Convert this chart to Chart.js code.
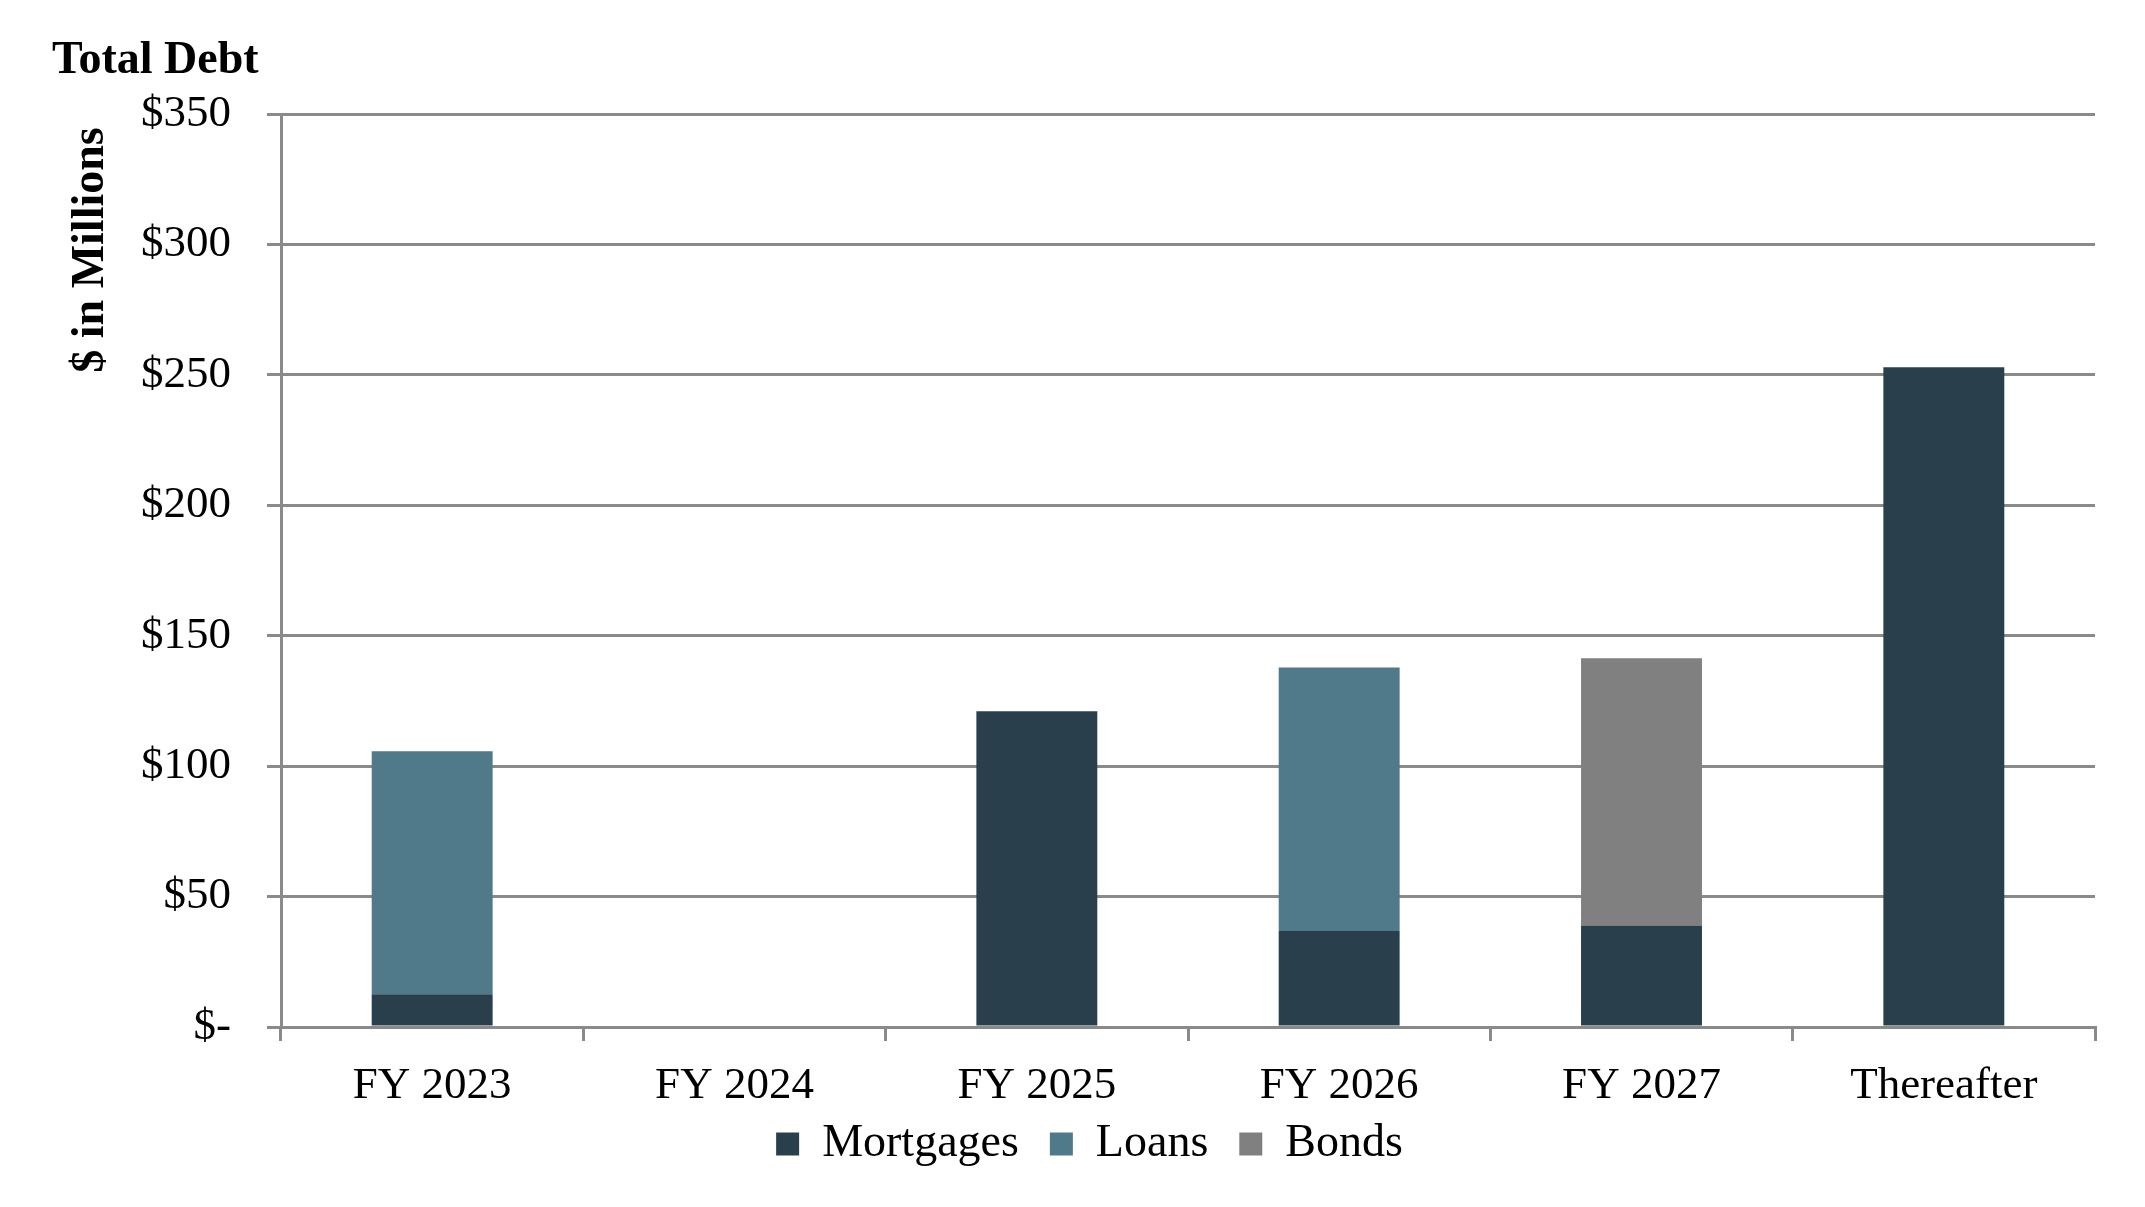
<!DOCTYPE html>
<html>
<head>
<meta charset="utf-8">
<script src="https://cdn.jsdelivr.net/npm/chart.js@4.4.1/dist/chart.umd.min.js"></script>
<style>
  body { margin: 0; background: #fff; }
  #wrap { width: 2145px; height: 1207px; }
</style>
</head>
<body>
<div id="wrap"><canvas id="myChart" width="2145" height="1207"></canvas></div>
<script>
var categories = ['FY 2023', 'FY 2024', 'FY 2025', 'FY 2026', 'FY 2027', 'Thereafter'];
var mortgages = [12.6, 0, 121, 36.8, 38.9, 252.9];
var loans = [93.1, 0, 0, 101, 0, 0];
var bonds = [0, 0, 0, 0, 102.5, 0];
var yTicks = [0, 50, 100, 150, 200, 250, 300, 350];

var serif = "'Liberation Serif', 'Times New Roman', serif";
var gridColor = '#8a8a8a';

// title and rotated axis label, placed like the original
var extraText = {
    id: 'extraText',
    afterDraw: function (chart) {
        var c = chart.ctx;
        c.save();
        c.fillStyle = '#000';
        c.font = 'bold 46px ' + serif;
        c.textBaseline = 'middle';
        c.textAlign = 'left';
        c.fillText('Total Debt', 52, 61);
        c.translate(91, 250);
        c.rotate(-Math.PI / 2);
        c.textAlign = 'center';
        c.fillText('$ in Millions', 0, 0);
        c.restore();
    }
};

// legend sits close under the axis labels: keep its reserved height small,
// then pull it up once the layout is done (and give it room to draw)
var legendTweak = {
    id: 'legendTweak',
    beforeLayout: function (chart) {
        var lg = chart.legend;
        if (lg && !lg._wrapped) {
            var origFit = lg.fit;
            lg.fit = function () {
                origFit.call(this);
                this.height = 56;
            };
            lg._wrapped = true;
        }
    },
    afterLayout: function (chart) {
        var lg = chart.legend;
        if (lg) {
            lg.top -= 41;
            lg.height = 110;
            lg.bottom = lg.top + lg.height;
        }
    }
};

var ctx = document.getElementById('myChart');
var myChart = new Chart(ctx, {
    type: 'bar',
    data: {
        labels: categories,
        datasets: [{
            label: 'Mortgages',
            data: mortgages,
            backgroundColor: '#29404c'
        }, {
            label: 'Loans',
            data: loans,
            backgroundColor: '#507989'
        }, {
            label: 'Bonds',
            data: bonds,
            backgroundColor: '#808080'
        }]
    },
    plugins: [extraText, legendTweak],
    options: {
        responsive: false,
        animation: false,
        devicePixelRatio: 1,
        layout: {
            padding: { left: 84, right: 50, top: 114, bottom: 20 }
        },
        datasets: {
            bar: { categoryPercentage: 1, barPercentage: 0.4, borderWidth: 0 }
        },
        scales: {
            x: {
                stacked: true,
                grid: {
                    drawOnChartArea: false,
                    color: gridColor,
                    lineWidth: 3,
                    tickLength: 14,
                    tickColor: gridColor,
                    tickWidth: 3
                },
                border: { display: true, color: gridColor, width: 3 },
                ticks: {
                    color: '#000',
                    font: { family: serif, size: 45 },
                    padding: 18
                }
            },
            y: {
                stacked: true,
                min: 0,
                max: 350,
                afterFit: function (scale) { scale.width = 197; },
                afterBuildTicks: function (scale) {
                    scale.ticks = yTicks.map(function (v) { return { value: v }; });
                },
                grid: {
                    color: gridColor,
                    lineWidth: 3,
                    tickLength: 14,
                    tickColor: gridColor,
                    tickWidth: 3
                },
                border: { display: true, color: gridColor, width: 3 },
                ticks: {
                    color: '#000',
                    font: { family: serif, size: 45 },
                    padding: 36,
                    callback: function (v) { return v === 0 ? '$-' : '$' + v; }
                }
            }
        },
        plugins: {
            title: { display: false },
            tooltip: { enabled: false },
            legend: {
                position: 'bottom',
                labels: {
                    color: '#000',
                    font: { family: serif, size: 46 },
                    boxWidth: 23,
                    boxHeight: 23,
                    padding: 31
                }
            }
        }
    }
});
</script>
</body>
</html>
